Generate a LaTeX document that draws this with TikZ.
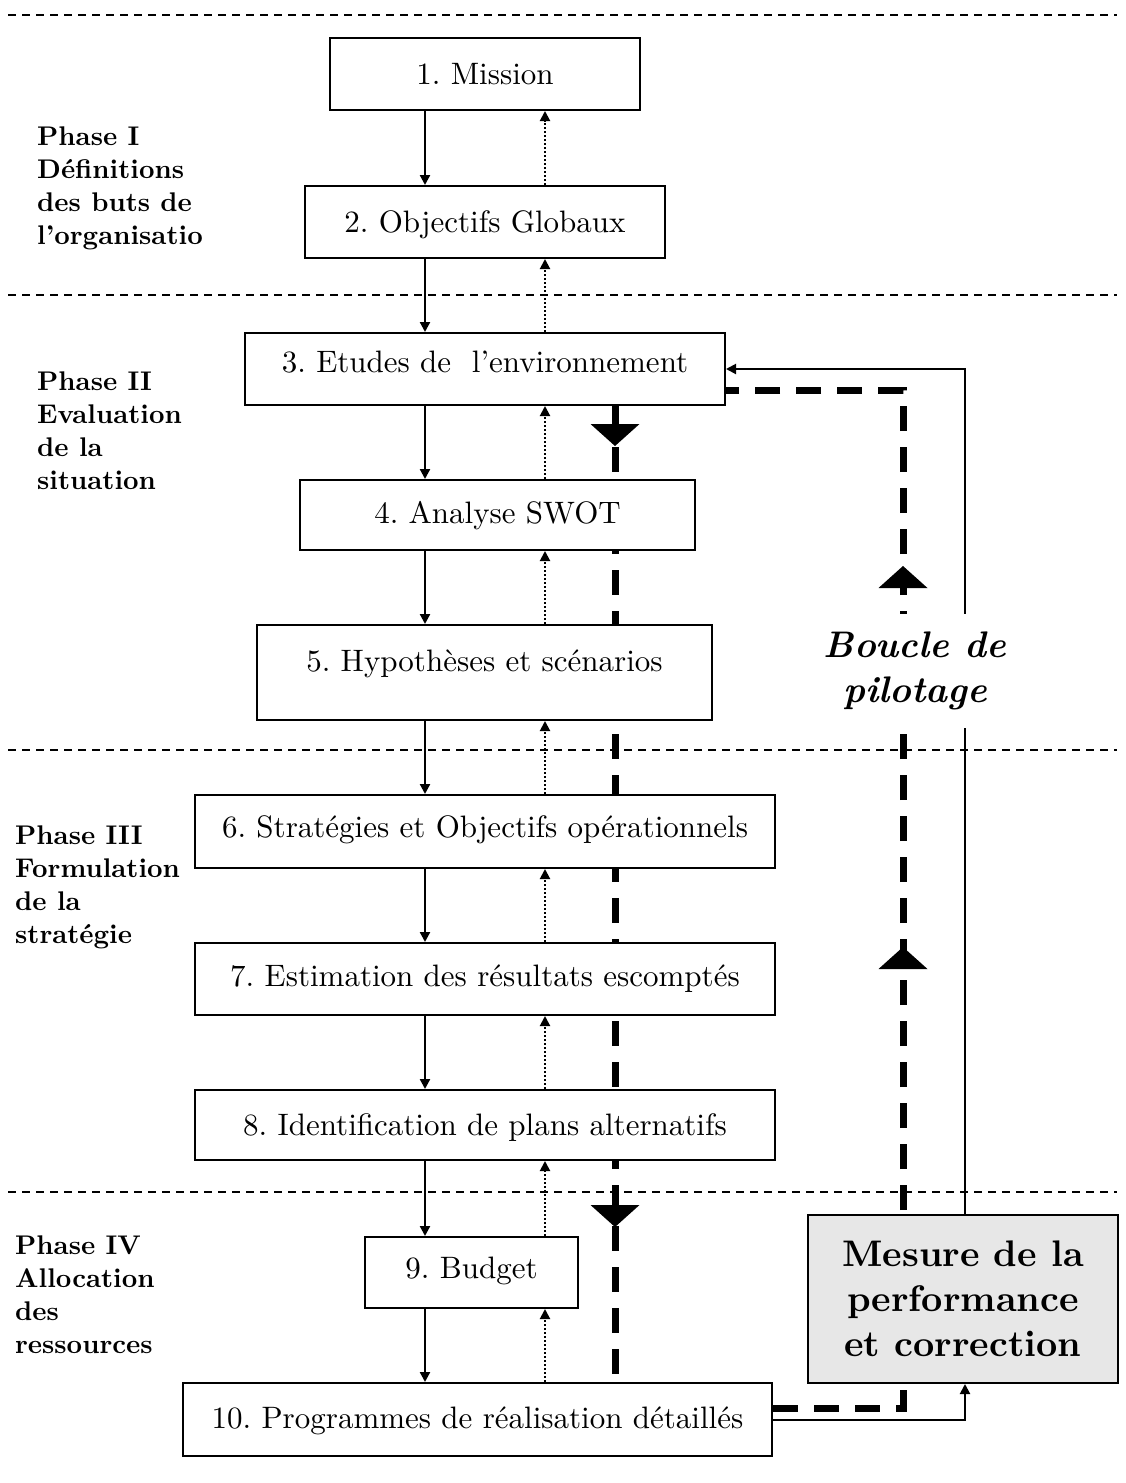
\documentclass[tikz,border=0pt]{standalone}
\usepackage{fontspec}
\setmainfont{lmroman10-regular.otf}[BoldFont=lmroman10-bold.otf,
  ItalicFont=lmroman10-italic.otf, BoldItalicFont=lmroman10-bolditalic.otf]
\usetikzlibrary{arrows.meta,decorations.markings}
\definecolor{panelgrey}{HTML}{E7E7E7}
\pgfdeclarelayer{back}
\pgfsetlayers{back,main}
\newcommand\drawLoopTip{\fill (0,0) -- (-22,24.5) -- (-22,-24.5) -- cycle;}
\tikzset{
  stepbox/.style={draw, line width=2pt, fill=white, inner sep=0pt,
    font=\fontsize{31}{37}\selectfont, text height=21pt, text depth=#1},
  stepbox/.default=0pt,
  tip/.tip={Triangle[length=10pt,width=10pt]},
  flow/.style={line width=2.2pt, -tip},
  feedback/.style={line width=2pt, dash pattern=on 2pt off 2pt, -tip},
  phasesep/.style={line width=1.4pt, dash pattern=on 8pt off 6pt},
  phaselabel/.style={anchor=north west, align=left, inner sep=0pt,
    font=\bfseries\fontsize{27}{33}\selectfont},
  loopdash/.style={line width=7pt, dash pattern=on 25pt off 16pt},
  loopline/.style={line width=2pt},
}
\begin{document}
\frenchspacing
\begin{tikzpicture}[x=1pt, y=-1pt]
\useasboundingbox (0,0) rectangle (1125,1483);

% phase separators
\draw[phasesep] (8,15) -- (1117,15);
\draw[phasesep] (8,295) -- (1117,295);
\draw[phasesep] (8,750) -- (1117,750);
\draw[phasesep] (8,1192) -- (1117,1192);

% phase labels
\node[phaselabel] (p1) at (37,127) {Phase I\\Définitions\\des buts de\\l’organisatio};
\node[phaselabel] (p2) at (37,372) {Phase II\\Evaluation\\de la\\situation};
\node[phaselabel] (p3) at (15,826) {Phase III\\Formulation\\de la\\stratégie};
\node[phaselabel] (p4) at (15,1236) {Phase IV\\Allocation\\des\\ressources};

% planning steps
\node[stepbox, minimum width=310pt, minimum height=72pt] (m1) at (485,74) {1. Mission};
\node[stepbox, minimum width=360pt, minimum height=72pt] (m2) at (485,222) {2. Objectifs Globaux};
\node[stepbox=14pt, minimum width=480pt, minimum height=72pt] (m3) at (485,369) {3. Etudes de\ \ l’environnement};
\node[stepbox=4pt, minimum width=395pt, minimum height=70pt] (m4) at (497.5,515) {4. Analyse SWOT};
\node[stepbox=24pt, minimum width=455pt, minimum height=95pt] (m5) at (484.5,672.5) {5. Hypothèses et scénarios};
\node[stepbox=10pt, minimum width=580pt, minimum height=73pt] (m6) at (485,831.5) {6. Stratégies et Objectifs opérationnels};
\node[stepbox=6pt, minimum width=580pt, minimum height=72pt] (m7) at (485,979) {7. Estimation des résultats escomptés};
\node[stepbox, minimum width=580pt, minimum height=70pt] (m8) at (485,1125) {8. Identification de plans alternatifs};
\node[stepbox=10pt, minimum width=213pt, minimum height=71pt] (m9) at (471.5,1272.5) {9. Budget};
\node[stepbox=4pt, minimum width=589pt, minimum height=73pt] (m10) at (477.5,1419.5) {10. Programmes de réalisation détaillés};

% control box and loop label
\node[draw, line width=2pt, fill=panelgrey, minimum width=310pt, minimum height=168pt,
      align=center, font=\bfseries\fontsize{37}{45}\selectfont] (mes) at (963,1299)
      {Mesure de la\\performance\\et correction};
\node[fill=white, inner xsep=2pt, inner ysep=0pt, minimum height=114pt, align=center,
      font=\bfseries\itshape\fontsize{37}{45}\selectfont] (loop) at (915,671)
      {Boucle de\\pilotage};

% column positions
\coordinate (xs) at (425,0);
\coordinate (xd) at (545,0);
\coordinate (xv) at (615,0);
\coordinate (xu) at (903,0);
\coordinate (xr) at (965,0);
\coordinate (ylo) at (0,1408);
\coordinate (yhi) at (0,390);

% downward flow and dotted feedback between steps
\foreach \a/\b in {m1/m2, m2/m3, m3/m4, m4/m5, m5/m6, m6/m7, m7/m8, m8/m9, m9/m10} {
  \draw[flow] (\a.south -| xs) -- (\b.north -| xs);
  \draw[feedback] (\b.north -| xd) -- (\a.south -| xd);
}

\begin{pgfonlayer}{back}
  % steering loop (thick dashed)
  \draw[loopdash, postaction=decorate,
        decoration={markings,
          mark=at position 40pt with {\drawLoopTip},
          mark=at position 821pt with {\drawLoopTip}}]
    (m3.south -| xv) -- (m10.north -| xv);
  \draw[loopdash, postaction=decorate,
        decoration={markings,
          mark=at position 591pt with {\drawLoopTip},
          mark=at position 972pt with {\drawLoopTip}}]
    (m10.east |- ylo) -| (xu |- yhi) -- (m3.east |- yhi);
  % measurement feedback (thin solid)
  \draw[loopline, -tip] (mes.north -| xr) |- (m3.east);
  \draw[loopline, -tip] (m10.east) -| (mes.south -| xr);
\end{pgfonlayer}
\end{tikzpicture}
\end{document}
